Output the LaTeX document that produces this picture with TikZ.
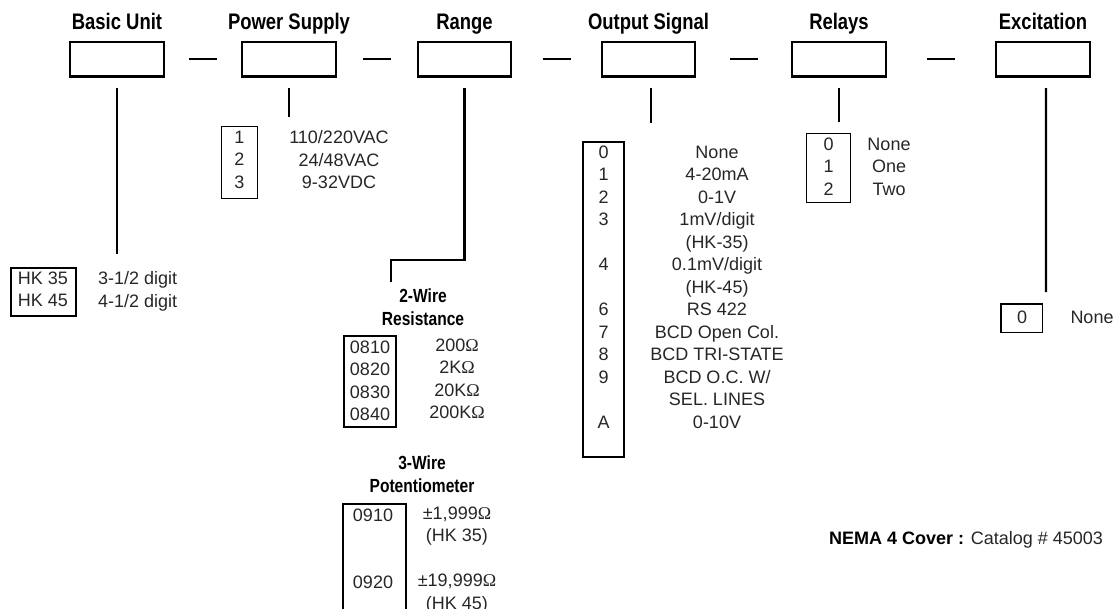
\documentclass[tikz,border=0pt]{standalone}
\usepackage{fontspec}
\setmainfont{Liberation Sans}
\newfontfamily\headfont{Liberation Sans}[FakeStretch=0.82]
\newfontfamily\omegafont{Liberation Serif}
\usetikzlibrary{calc}
\newcommand{\ohmsign}{{\omegafont Ω}}

\tikzset{
  topbox/.style={draw,line width=2.4pt,minimum width=93.5pt,minimum height=34.6pt,
                 inner sep=0pt},
  headtext/.style={font=\headfont\bfseries\fontsize{22.5}{26}\selectfont,text=black,
                   inner sep=0pt,text height=16pt,text depth=5pt,yshift=6pt},
  subhead/.style={font=\headfont\bfseries\fontsize{19}{23}\selectfont,text=black,
                  align=center,inner sep=0pt,anchor=north},
  leader/.style={line width=2.4pt},
  thickbox/.style={draw,line width=2.4pt,inner sep=0pt},
  thinbox/.style={draw,line width=1.2pt,inner sep=0pt},
  listtext/.style={align=center,inner sep=0pt,anchor=north}
}

\begin{document}
\begin{tikzpicture}[x=10pt,y=-10pt,
  every node/.style={font=\fontsize{18}{22.5}\selectfont,text=black!85}]
  \clip (0,0) rectangle (111.5,60.8);

  % order code boxes
  \node[topbox,label={[headtext]above:Basic Unit}]    (bu) at (11.7,5.9)  {};
  \node[topbox,label={[headtext]above:Power Supply}]  (ps) at (28.9,5.9)  {};
  \node[topbox,label={[headtext]above:Range}]         (rg) at (46.45,5.9) {};
  \node[topbox,label={[headtext]above:Output Signal}] (os) at (64.85,5.9) {};
  \node[topbox,label={[headtext]above:Relays}]        (rl) at (83.9,5.9)  {};
  \node[topbox,label={[headtext]above:Excitation}]    (ex) at (104.3,5.9) {};
  \draw[leader] ($(bu.east)!.5!(ps.west)+(-1.4,0)$) -- ($(bu.east)!.5!(ps.west)+(1.4,0)$);
  \draw[leader] ($(ps.east)!.5!(rg.west)+(-1.4,0)$) -- ($(ps.east)!.5!(rg.west)+(1.4,0)$);
  \draw[leader] ($(rg.east)!.5!(os.west)+(-1.4,0)$) -- ($(rg.east)!.5!(os.west)+(1.4,0)$);
  \draw[leader] ($(os.east)!.5!(rl.west)+(-1.4,0)$) -- ($(os.east)!.5!(rl.west)+(1.4,0)$);
  \draw[leader] ($(rl.east)!.5!(ex.west)+(-1.4,0)$) -- ($(rl.east)!.5!(ex.west)+(1.4,0)$);

  % leaders down to the option lists
  \coordinate (buend) at (11.7,25.4);
  \coordinate (psend) at (28.9,11.7);
  \coordinate (rgbend) at (46.45,26.0);
  \coordinate (rgend) at (39.1,28.2);
  \coordinate (osend) at (65.1,12.3);
  \coordinate (rlend) at (83.9,12.2);
  \coordinate (exend) at (104.6,29.2);
  \draw[leader] ([yshift=-10.7pt]bu.south) -- (buend);
  \draw[leader] ([yshift=-10.7pt]ps.south) -- (psend);
  \draw[leader] ([yshift=-10.7pt]rg.south) -- (rgbend) -| (rgend);
  \draw[leader] ([xshift=2.5pt,yshift=-10.7pt]os.south) -- (osend);
  \draw[leader] ([yshift=-10.7pt]rl.south) -- (rlend);
  \draw[leader] ([xshift=3pt,yshift=-10.7pt]ex.south) -- (exend);

  % basic unit
  \node[thickbox,minimum width=64.6pt,minimum height=47.6pt] (hkbox) at (4.35,29.2) {};
  \node[listtext] (hkcodes) at (4.3,27.15) {HK 35\\HK 45};
  \node[listtext,align=left,anchor=north west] (hkvals) at (9.8,27.15) {3-1/2 digit\\4-1/2 digit};

  % power supply
  \node[thinbox,minimum width=35.8pt,minimum height=71.8pt] (psbox) at (23.95,16.25) {};
  \node[listtext] (pscodes) at (23.95,13.05) {1\\2\\3};
  \node[listtext] (psvals) at (33.9,13.05) {110/220VAC\\24/48VAC\\9-32VDC};

  % range
  \node[subhead] (r2head) at (42.3,28.81) {2-Wire\\Resistance};
  \node[thickbox,minimum width=51.6pt,minimum height=90.6pt] (r2box) at (37.0,38.15) {};
  \node[listtext] (r2codes) at (37.0,34.05) {0810\\0820\\0830\\0840};
  \node[listtext] (r2vals) at (45.7,33.85) {200\ohmsign\\2K\ohmsign\\20K\ohmsign\\200K\ohmsign};
  \node[subhead] (r3head) at (42.2,45.51) {3-Wire\\Potentiometer};
  \node[thickbox,minimum width=62.6pt,minimum height=134.6pt] (r3box) at (37.45,57.15) {};
  \node[listtext] (r3codes) at (37.3,50.85) {0910\\~\\~\\0920};
  \node[listtext] (r3vals) at (45.7,50.65) {±1,999\ohmsign\\(HK 35)\\~\\±19,999\ohmsign\\(HK 45)};

  % output signal
  \node[thickbox,minimum width=40.6pt,minimum height=314.6pt] (osbox) at (60.35,29.95) {};
  \node[listtext] (oscodes) at (60.35,14.55) {0\\1\\2\\3\\~\\4\\~\\6\\7\\8\\9\\~\\A};
  \node[listtext] (osvals) at (71.7,14.55) {None\\4-20mA\\0-1V\\1mV/digit\\(HK-35)\\0.1mV/digit\\(HK-45)\\RS 422\\BCD Open Col.\\BCD TRI-STATE\\BCD O.C. W/\\SEL. LINES\\0-10V};

  % relays
  \node[thinbox,minimum width=43.8pt,minimum height=68.8pt] (rlbox) at (82.85,16.8) {};
  \node[listtext] (rlcodes) at (82.85,13.75) {0\\1\\2};
  \node[listtext] (rlvals) at (88.9,13.75) {None\\One\\Two};

  % excitation
  \node[draw,line width=1.5pt,inner sep=0pt,minimum width=41.5pt,minimum height=28.5pt] (exbox) at (102.15,31.8) {};
  \node[inner sep=0pt,anchor=base] (excode) at (102.2,32.35) {0};
  \node[inner sep=0pt,anchor=base] (exval) at (109.2,32.35) {None};

  \node[inner sep=0pt,anchor=base west] (nema) at (82.9,54.4) {\textcolor{black}{\bfseries NEMA 4 Cover :} Catalog \# 45003};
\end{tikzpicture}
\end{document}
